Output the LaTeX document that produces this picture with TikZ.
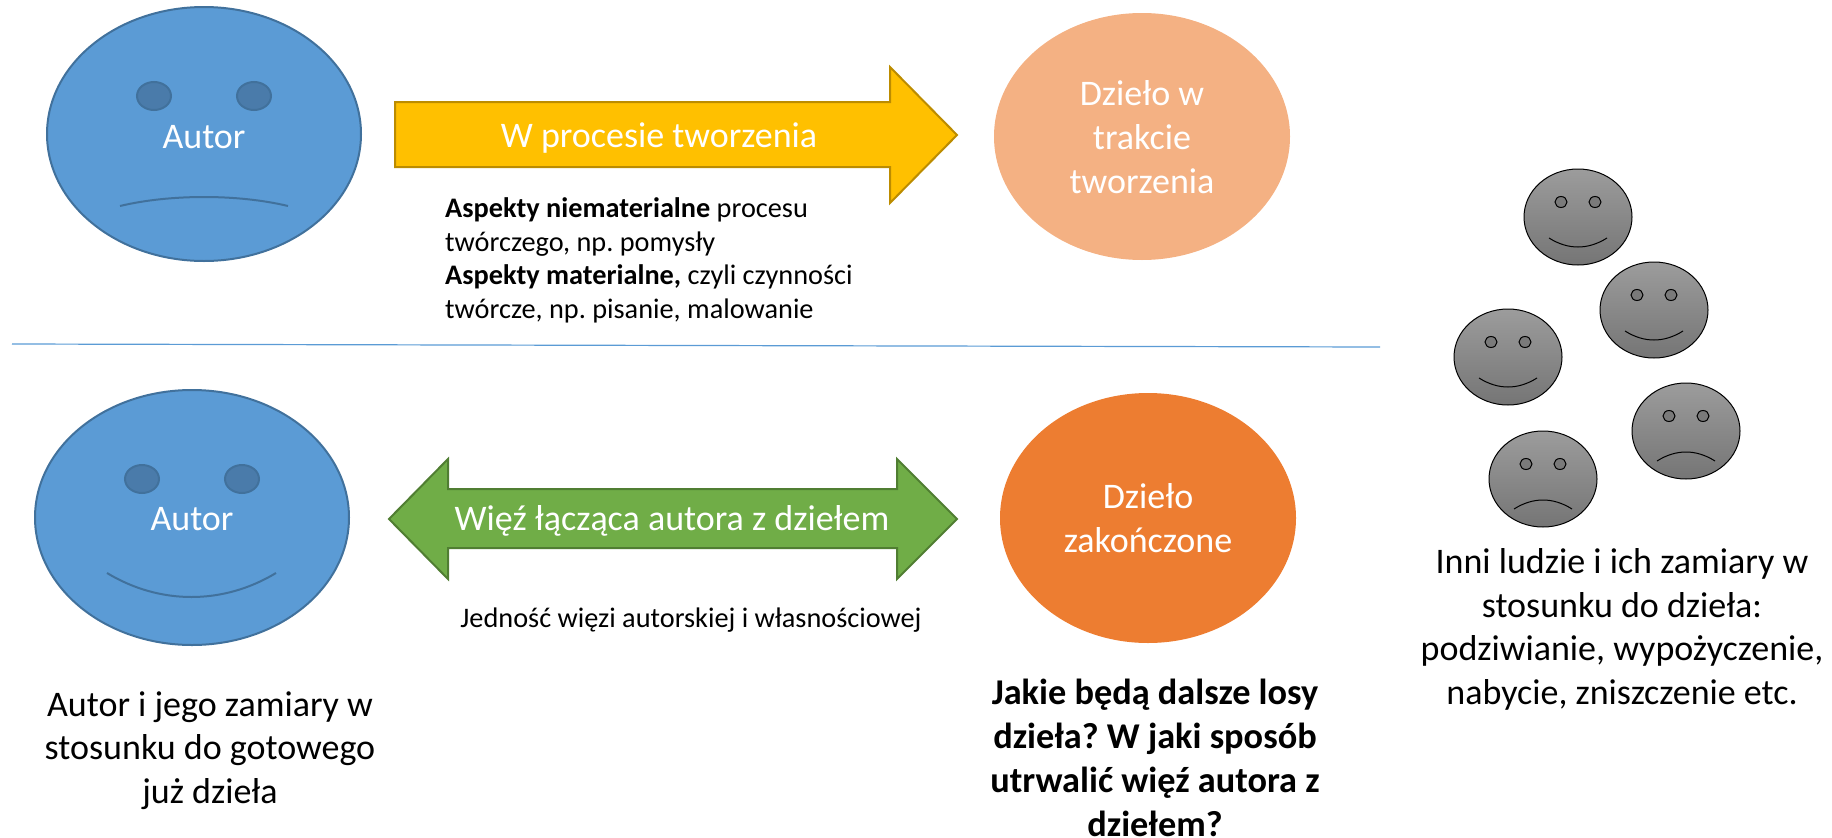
\documentclass[tikz,border=0pt]{standalone}
\usepackage{fontspec}
\setmainfont{Carlito}
\usetikzlibrary{shapes.geometric}
\definecolor{blueF}{HTML}{5B9BD5}
\definecolor{blueD}{HTML}{41719C}
\definecolor{eyeB}{HTML}{4A7BAA}
\definecolor{gold}{HTML}{FFC000}
\definecolor{goldD}{HTML}{BC8C00}
\definecolor{greenF}{HTML}{70AD47}
\definecolor{greenD}{HTML}{507E32}
\definecolor{peach}{HTML}{F4B183}
\definecolor{orangeF}{HTML}{ED7D31}
\definecolor{grayT}{HTML}{9C9C9C}
\definecolor{grayB}{HTML}{757575}
\definecolor{grayE}{HTML}{7A7A7A}
\tikzset{
 x=1pt,y=-1pt,
 face/.style={ellipse,inner sep=0pt,fill=blueF,draw=blueD,line width=2pt},
 eyeblue/.style={ellipse,inner sep=0pt,fill=eyeB,draw=blueD,line width=2pt},
 mouthblue/.style={draw=blueD,line width=2pt},
 work/.style={ellipse,inner sep=0pt},
 whitetext/.style={text=white,align=center,anchor=base,inner sep=0pt,font=\frenchspacing\fontsize{36}{44}\selectfont},
 caption/.style={align=center,anchor=base,inner sep=0pt,font=\frenchspacing\fontsize{36}{43.5}\selectfont},
 small/.style={align=left,anchor=base west,inner sep=0pt,font=\frenchspacing\fontsize{28.3}{33.4}\selectfont},
 grayface/.style={ellipse,inner sep=0pt,minimum width=108pt,minimum height=96pt,draw=black,line width=1pt,top color=grayT,bottom color=grayB},
 grayeye/.style={ellipse,inner sep=0pt,minimum width=12pt,minimum height=11pt,draw=black,line width=1pt,fill=grayE},
}
\newcommand{\grayone}[4]{%
 \node[grayface] (#1) at (#2,#3) {};
 \node[grayeye] (#1l) at (#2-17,#3-15) {};
 \node[grayeye] (#1r) at (#2+17,#3-15) {};
 \ifnum#4=1
  \draw[line width=1pt] (#2-29,#3+21) .. controls (#2-10,#3+33) and (#2+10,#3+33) .. (#2+29,#3+21);
 \else
  \draw[line width=1pt] (#2-29,#3+30) .. controls (#2-10,#3+18) and (#2+10,#3+18) .. (#2+29,#3+30);
 \fi
}
\begin{document}
\begin{tikzpicture}
\useasboundingbox (0,0) rectangle (1832,838);
% top author
\node[face,minimum width=314pt,minimum height=254pt] (a1) at (204,134) {};
\node[eyeblue,minimum width=34pt,minimum height=28pt] (a1l) at (154,96) {};
\node[eyeblue,minimum width=34pt,minimum height=28pt] (a1r) at (254,96) {};
\draw[mouthblue] (120,206) .. controls (170,194) and (238,194) .. (288,206);
\node[whitetext] (a1t) at (204,148) {Autor};
% gold arrow
\draw[fill=gold,draw=goldD,line width=2pt] (395,102) -- (890,102) -- (890,67) -- (957,135) -- (890,203) -- (890,167) -- (395,167) -- cycle;
\node[whitetext] (t1) at (659,147) {W procesie tworzenia};
\node[work,fill=peach,minimum width=296pt,minimum height=247pt] (d1) at (1142,136.5) {};
\node[whitetext] (d1t) at (1142,193) {Dzieło w\\trakcie\\tworzenia};
\node[small] (s1) at (445,318) {\textbf{Aspekty niematerialne} procesu\\twórczego, np. pomysły\\\textbf{Aspekty materialne,} czyli czynności\\twórcze, np. pisanie, malowanie};
% line
\draw[blueF,line width=1.2pt] (12,344) -- (1380,347);
% bottom author
\node[face,minimum width=314pt,minimum height=255pt] (a2) at (192,517.5) {};
\node[eyeblue,minimum width=34pt,minimum height=28pt] (a2l) at (142,479) {};
\node[eyeblue,minimum width=34pt,minimum height=28pt] (a2r) at (242,479) {};
\draw[mouthblue] (107,573) .. controls (160,605) and (223,605) .. (276,573);
\node[whitetext] (a2t) at (192,530) {Autor};
% green arrow
\draw[fill=greenF,draw=greenD,line width=2pt] (389,519) -- (448,459) -- (448,489) -- (897,489) -- (897,459) -- (957,519) -- (897,579) -- (897,548) -- (448,548) -- (448,579) -- cycle;
\node[whitetext] (t2) at (672,530) {Więź łącząca autora z dziełem};
\node[work,fill=orangeF,minimum width=296pt,minimum height=250pt] (d2) at (1148,518) {};
\node[whitetext] (d2t) at (1148,552) {Dzieło\\zakończone};
\node[small,anchor=base] (s2) at (691,627) {Jedność więzi autorskiej i własnościowej};
% captions
\node[caption] (c1) at (210,803) {Autor i jego zamiary w\\stosunku do gotowego\\już dzieła};
\node[caption,font=\frenchspacing\fontsize{36.3}{43.7}\selectfont\bfseries] (c2) at (1155,836) {Jakie będą dalsze losy\\dzieła? W jaki sposób\\utrwalić więź autora z\\dziełem?};
\node[caption] (c3) at (1622,704) {Inni ludzie i ich zamiary w\\stosunku do dzieła:\\podziwianie, wypożyczenie,\\nabycie, zniszczenie etc.};
% crowd
\grayone{g1}{1578}{217}{1}
\grayone{g2}{1654}{310}{1}
\grayone{g3}{1508}{357}{1}
\grayone{g4}{1686}{431}{0}
\grayone{g5}{1543}{479}{0}
\end{tikzpicture}
\end{document}
